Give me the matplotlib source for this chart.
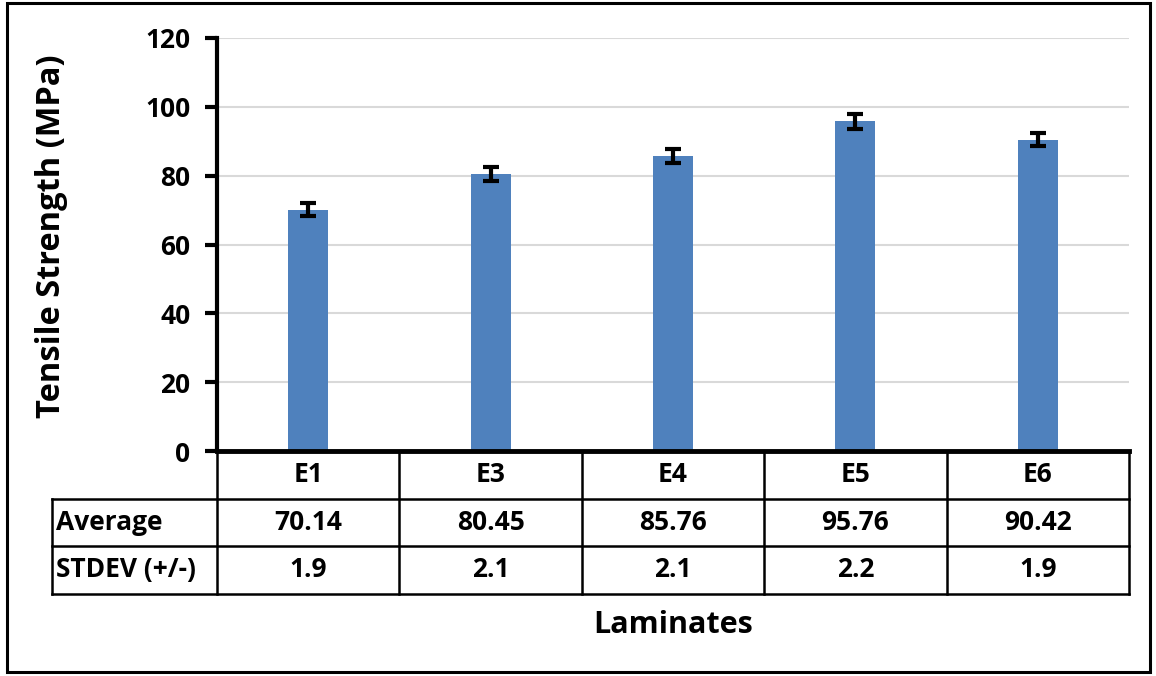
import numpy as np
import matplotlib.pyplot as plt
from matplotlib.patches import Rectangle
import matplotlib.transforms as mtransforms

plt.rcParams["font.family"] = ["Open Sans", "DejaVu Sans"]
plt.rcParams["font.weight"] = "bold"

# data
laminates = ["E1", "E3", "E4", "E5", "E6"]
average   = [70.14, 80.45, 85.76, 95.76, 90.42]
stdev     = [1.9, 2.1, 2.1, 2.2, 1.9]
avg_labels = ["70.14", "80.45", "85.76", "95.76", "90.42"]
std_labels = ["1.9", "2.1", "2.1", "2.2", "1.9"]
row_names  = ["Average", "STDEV (+/-)"]

W, H = 1156, 676
fig = plt.figure(figsize=(W / 100, H / 100), dpi=100, facecolor="white")

# outer chart border
fig.patches.append(Rectangle((7 / W, 4 / H), (1150 - 7) / W, (673 - 4) / H,
                             transform=fig.transFigure, fill=False,
                             edgecolor="black", linewidth=2.2, zorder=0))

left, right, top, bottom = 217, 1129, 38, 451
ax = fig.add_axes([left / W, 1 - bottom / H, (right - left) / W, (bottom - top) / H])

x = np.arange(len(laminates))
ax.bar(x, average, width=0.22, color="#4F81BD", zorder=2)
ax.errorbar(x, average, yerr=stdev, fmt="none", ecolor="black",
            elinewidth=3, capsize=6, capthick=3, zorder=3)

ax.set_xlim(-0.5, len(laminates) - 0.5)
ax.set_ylim(0, 120)
ax.set_yticks(np.arange(0, 121, 20))
ax.set_xticks([])
ax.yaxis.grid(True, color="#D9D9D9", linewidth=1.5, zorder=0)
ax.set_axisbelow(True)
for s in ["top", "right"]:
    ax.spines[s].set_visible(False)
ax.spines["left"].set_linewidth(3)
ax.spines["bottom"].set_linewidth(3.5)
ax.tick_params(axis="y", length=9, width=3, pad=10, labelsize=19)
for lab in ax.get_yticklabels():
    lab.set_fontweight("bold")

ax.set_ylabel("Tensile Strength (MPa)", fontsize=23.5, fontweight="bold")
ax.yaxis.set_label_coords((68 - left) / (right - left), 0.52)

# data table under the axis
trans = mtransforms.blended_transform_factory(ax.transData, ax.transAxes)
row_h = 47.5 / (bottom - top)
head_x = (52 - left) / (right - left)
lw = 1.8
fs = 19
y_rows = [0, -row_h, -2 * row_h, -3 * row_h]

for yy in y_rows[1:]:
    ax.plot([head_x, 1], [yy, yy], transform=ax.transAxes, color="black",
            linewidth=lw, clip_on=False)
ax.plot([1, 1], [0, y_rows[-1]], transform=ax.transAxes, color="black",
        linewidth=lw, clip_on=False)
ax.plot([head_x, head_x], [y_rows[1], y_rows[-1]], transform=ax.transAxes,
        color="black", linewidth=lw, clip_on=False)
for k in range(len(laminates)):
    ax.plot([k - 0.5, k - 0.5], [0, y_rows[-1]], transform=trans,
            color="black", linewidth=lw, clip_on=False)

for k, name in enumerate(laminates):
    ax.text(k, -0.5 * row_h, name, transform=trans, ha="center", va="center",
            fontsize=fs, fontweight="bold")
    ax.text(k, -1.5 * row_h, avg_labels[k], transform=trans, ha="center",
            va="center", fontsize=fs, fontweight="bold")
    ax.text(k, -2.5 * row_h, std_labels[k], transform=trans, ha="center",
            va="center", fontsize=fs, fontweight="bold")
for j, name in enumerate(row_names):
    ax.text(head_x + 0.004, -(1.5 + j) * row_h, name, transform=ax.transAxes,
            ha="left", va="center", fontsize=fs, fontweight="bold")

ax.text(0.5, 1 - (625 - top) / (bottom - top), "Laminates", transform=ax.transAxes,
        ha="center", va="center", fontsize=22, fontweight="bold")

fig.savefig("out.png", dpi=100, facecolor="white")
